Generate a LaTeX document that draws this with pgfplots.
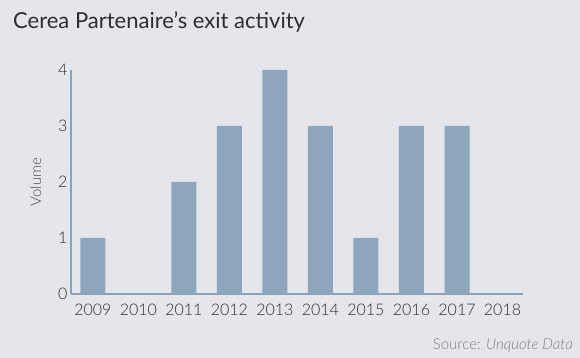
\documentclass[border=0pt]{standalone}
\usepackage{pgfplots}
\pgfplotsset{compat=1.18}
\usepackage{fontspec}
\setmainfont{Lato}
\newfontfamily\latolight{Lato Light}[ItalicFont={Lato Light Italic}]
\definecolor{bg}{HTML}{E5E6EB}
\definecolor{barc}{HTML}{8DA6BD}
\definecolor{axc}{HTML}{8AA3BB}
\definecolor{txt}{HTML}{2E2E2E}
\definecolor{src}{HTML}{7F7F7F}
\begin{document}
\begin{tikzpicture}
\useasboundingbox (0pt,0pt) rectangle (580pt,358pt);
\fill[bg] (0pt,0pt) rectangle (580pt,358pt);
\node[anchor=base west,font=\fontsize{22}{26}\selectfont,text=txt,inner sep=0] at (13pt,329pt) {Cerea Partenaire’s exit activity};
\node[anchor=base east,font=\latolight\fontsize{15}{17}\selectfont,text=src,inner sep=0] at (573pt,8pt) {Source: \textit{Unquote Data}};
\begin{axis}[
  at={(71pt,64pt)}, anchor=south west,
  scale only axis, width=452pt, height=224pt,
  xmin=-0.48, xmax=9.45, ymin=0, ymax=4,
  axis lines=left,
  axis line style={axc, line width=1.2pt, -},
  xtick={0,...,9},
  xticklabels={2009,2010,2011,2012,2013,2014,2015,2016,2017,2018},
  ytick={0,1,2,3,4},
  major tick length=0pt,
  tick style={draw=none},
  ticklabel style={font=\latolight\fontsize{16}{18}\selectfont, text=txt},
  /pgf/number format/assume math mode=true,
  xticklabel style={yshift=-7pt},
  ylabel={Volume},
  ylabel style={font=\latolight\fontsize{15}{17}\selectfont, text=txt!85, at={(axis description cs:-0.078,0.5)}, anchor=center},
  clip=false,
]
\addplot[ybar, bar width=25pt, fill=barc, draw=none] coordinates {
(0,1) (1,0) (2,2) (3,3) (4,4) (5,3) (6,1) (7,3) (8,3) (9,0)};
\end{axis}
\end{tikzpicture}
\end{document}
